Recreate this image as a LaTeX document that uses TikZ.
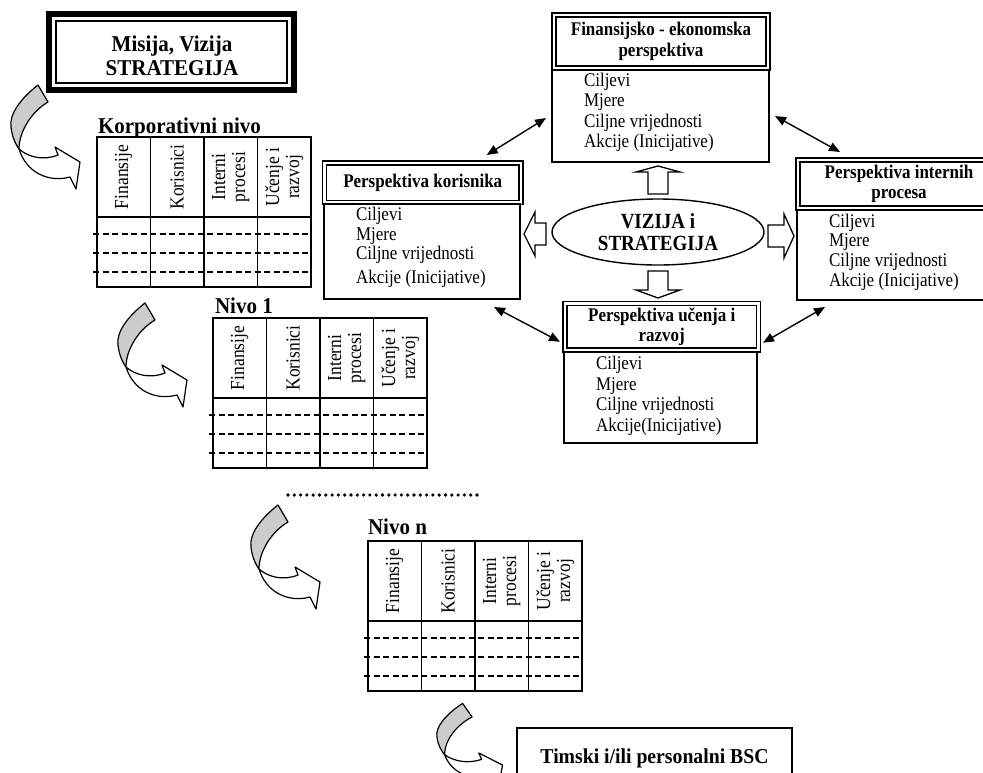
\documentclass[tikz,border=0pt]{standalone}
\usepackage{fontspec}
\setmainfont{Liberation Serif}
\newfontfamily\condA[FakeStretch=0.88]{Liberation Serif}
\newfontfamily\condB[FakeStretch=0.93]{Liberation Serif}
\usetikzlibrary{arrows.meta,calc,shapes.geometric}
\tikzset{
  every node/.style={inner sep=0pt, outer sep=0pt},
  bigtxt/.style={font=\condB\fontsize{22.6}{24}\selectfont\bfseries},
  hdrtxt/.style={font=\condA\fontsize{19.3}{20.5}\selectfont\bfseries, align=center},
  bodytxt/.style={font=\condA\fontsize{19.3}{20}\selectfont, anchor=west, text height=13pt, text depth=4pt},
  thtxt/.style={font=\condA\fontsize{19.9}{20}\selectfont, rotate=90, align=center},
  dblhdr/.style={draw, line width=1.6pt, double=white, double distance=2.2pt, rectangle},
  bodybox/.style={draw, line width=1.5pt, rectangle},
  tabbox/.style={draw, line width=1.6pt, rectangle, minimum width=214pt, minimum height=150pt, anchor=north west},
  tabline/.style={line width=1.6pt},
  dashline/.style={line width=1.5pt, dash pattern=on 6pt off 3.5pt},
  carrow/.style={draw, line width=1.2pt, line join=round},
  blk/.style={draw, line width=1.3pt, fill=white, line join=miter},
  dbl/.style={line width=1.4pt, {Triangle[length=11pt,width=9pt]}-{Triangle[length=11pt,width=9pt]}},
}
\newcommand\bsctable[3]{%
  \begin{scope}[shift={(#2,#3)}]
    \node[tabbox] (#1) at (0,0) {};
    \draw[tabline] (0,80) -- (214,80);
    \foreach \c in {53.5,107,160.5} \draw[tabline] (\c,0) -- (\c,150);
    \foreach \d in {97,116,135} \draw[dashline] (-4,\d) -- (214,\d);
    \node[thtxt] (#1-fin) at (26.75,40) {Finansije};
    \node[thtxt] (#1-kor) at (80.25,40) {Korisnici};
    \node[thtxt] (#1-int) at (133.75,40) {Interni\\procesi};
    \node[thtxt] (#1-ucn) at (187.25,40) {Učenje i\\razvoj};
  \end{scope}}
\newcommand\curvedarrow[4]{%
  \begin{scope}[shift={(#1,#2)}, xscale=#3, yscale=#4]
    \draw[carrow, fill=white] (21,72) .. controls (30,80) and (45,84) .. (60,78) -- (57,70) -- (82,85) -- (78,112) -- (72,100) .. controls (50,106) and (28,95) .. (21,72) -- cycle;
    \draw[carrow, fill=gray!40] (40,8) .. controls (22,22) and (11,38) .. (13,50) .. controls (14,60) and (18,68) .. (21,72) .. controls (21,55) and (33,35) .. (50,25) -- cycle;
  \end{scope}}
\begin{document}
\begin{tikzpicture}[x=1pt, y=-1pt]
\path[use as bounding box, clip] (0,0) rectangle (983,772);
\fill[white] (0,0) rectangle (983,772);

% Misija box
\node[draw, line width=6pt, minimum width=245pt, minimum height=76pt] (misija) at (171.5,52) {};
\draw[line width=1.4pt] ([shift={(7,7)}]misija.north west) rectangle ([shift={(-7,-7)}]misija.south east);
\node[bigtxt, align=center] (misijatxt) at (172,56) {Misija, Vizija\\STRATEGIJA};

% curved arrows
\curvedarrow{-2}{77}{1}{1}
\curvedarrow{105}{295}{1}{1}
\curvedarrow{238}{497}{1}{1}
\curvedarrow{424.6}{697}{0.95}{0.8}

% tables
\node[bigtxt, anchor=base west] (korpt) at (98,133) {Korporativni nivo};
\bsctable{korp}{97}{137}
\node[bigtxt, anchor=base west] (niv1t) at (215,313) {Nivo 1};
\bsctable{niv1}{213}{318}
\draw[line width=3.6pt, line cap=round, dash pattern=on 0pt off 6.3pt] (288,495) -- (478,495);
\node[bigtxt, anchor=base west] (nivnt) at (368,534) {Nivo n};
\bsctable{nivn}{368}{541}

% Timski
\node[draw, line width=1.5pt, anchor=north west, minimum width=275pt, minimum height=60pt, font=\condB\fontsize{21.2}{24}\selectfont\bfseries] (timski) at (517,728) {Timski i/ili personalni BSC};

% right side boxes
\node[dblhdr, hdrtxt, minimum width=214pt, minimum height=53pt] (finh) at (661,41.5) {Finansijsko - ekonomska\\perspektiva};
\node[bodybox, minimum width=217pt, minimum height=92pt] (finb) at (660.5,116) {};
\node[bodytxt] (fin1) at (584,82) {Ciljevi};
\node[bodytxt] (fin2) at (584,102) {Mjere};
\node[bodytxt] (fin3) at (584,123) {Ciljne vrijednosti};
\node[bodytxt] (fin4) at (584,143) {Akcije (Inicijative)};

\node[dblhdr, hdrtxt, minimum width=196.5pt, minimum height=39.5pt] (korh) at (422.75,182.75) {Perspektiva korisnika};
\node[bodybox, minimum width=196pt, minimum height=95pt] (korb) at (422,251.5) {};
\node[bodytxt] (kor1) at (356,216) {Ciljevi};
\node[bodytxt] (kor2) at (356,236) {Mjere};
\node[bodytxt] (kor3) at (356,255) {Ciljne vrijednosti};
\node[bodytxt] (kor4) at (356,279) {Akcije (Inicijative)};

\node[dblhdr, hdrtxt, minimum width=202pt, minimum height=48pt] (inth) at (899,184) {Perspektiva internih\\procesa};
\node[bodybox, minimum width=203pt, minimum height=90pt] (intb) at (898.5,255) {};
\node[bodytxt] (int1) at (829,223) {Ciljevi};
\node[bodytxt] (int2) at (829,242) {Mjere};
\node[bodytxt] (int3) at (829,262) {Ciljne vrijednosti};
\node[bodytxt] (int4) at (829,282) {Akcije (Inicijative)};

\node[dblhdr, hdrtxt, minimum width=193.5pt, minimum height=46.5pt] (ucnh) at (661.75,326.75) {Perspektiva učenja i\\razvoj};
\node[bodybox, minimum width=193pt, minimum height=91pt] (ucnb) at (660.5,397.5) {};
\node[bodytxt] (ucn1) at (596,365) {Ciljevi};
\node[bodytxt] (ucn2) at (596,386) {Mjere};
\node[bodytxt] (ucn3) at (596,406) {Ciljne vrijednosti};
\node[bodytxt] (ucn4) at (596,427) {Akcije(Inicijative)};

% ellipse
\node[draw, ellipse, line width=1.4pt, minimum width=212pt, minimum height=66pt] (ell) at (658,232) {};
\node[font=\condA\fontsize{21.6}{22}\selectfont\bfseries, align=center] (elltxt) at (658,232) {VIZIJA i\\STRATEGIJA};

% block arrows
\draw[blk] ([shift={(-10,-5)}]ell.north) -- ++(0,-22) -- ++(-12,0) -- ++(22,-6) -- ++(22,6) -- ++(-12,0) -- ++(0,22) -- cycle;
\draw[blk] ([shift={(-10,6)}]ell.south) -- ++(0,19) -- ++(-12,0) -- ++(22,8) -- ++(22,-8) -- ++(-12,0) -- ++(0,-19) -- cycle;
\draw[blk] ([shift={(-6,-9)}]ell.west) -- ++(-11,0) -- ++(0,-11) -- ++(-11,22) -- ++(11,22) -- ++(0,-11) -- ++(11,0) -- cycle;
\draw[blk] ([shift={(4,-7)}]ell.east) -- ++(16,0) -- ++(0,-11) -- ++(10,22) -- ++(-10,22) -- ++(0,-11) -- ++(-16,0) -- cycle;

% double arrows
\draw[dbl] ([shift={(64,-8)}]korh.north) -- ([shift={(-6,2)}]finb.west);
\draw[dbl] ([shift={(6,0)}]finb.east) -- ([shift={(42,-8)}]inth.north west);
\draw[dbl] ([shift={(-26,8)}]korb.south east) -- ([shift={(-5,15)}]ucnh.west);
\draw[dbl] ([shift={(4.5,16)}]ucnh.east) -- ([shift={(28,7)}]intb.south west);
\end{tikzpicture}
\end{document}
